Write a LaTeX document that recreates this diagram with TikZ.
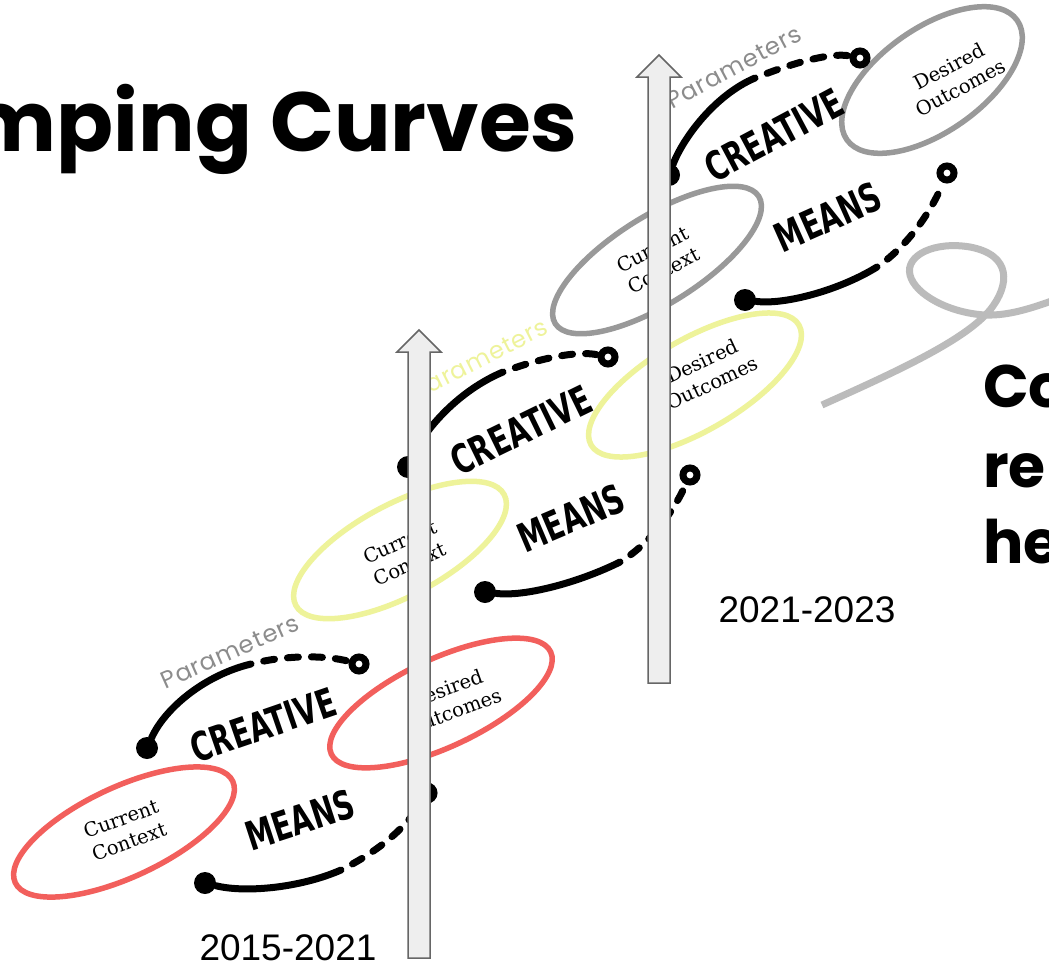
\documentclass[tikz,border=0pt]{standalone}
\usepackage{fontspec}
\usepackage{graphicx}
\usetikzlibrary{shapes.geometric}
\newfontfamily\titlefont{Poppins}
\newfontfamily\condfont{DejaVu Sans Bold}
\newfontfamily\paramfont{Poppins}[LetterSpace=4]
\newfontfamily\ctxfont{DejaVu Serif}
\newfontfamily\yearfont{Liberation Sans}
\newcommand{\cond}[1]{\scalebox{0.70}[1]{#1}}
\definecolor{cred}{HTML}{F25F5C}
\definecolor{cyel}{HTML}{EEF39A}
\definecolor{cgry}{HTML}{999999}
\definecolor{pgry}{HTML}{8C8C8C}
\definecolor{loopgry}{HTML}{BBBBBB}
\definecolor{arrfill}{HTML}{EEEEEE}
\definecolor{arrline}{HTML}{666666}
\begin{document}
\begin{tikzpicture}[x=1pt,y=-1pt,
  oval/.style={draw, ellipse, line width=5.5pt, inner sep=0pt},
  ctx/.style={font=\ctxfont\fontsize{19.5}{24}\selectfont, align=center, text=black, inner sep=0pt},
  big/.style={font=\condfont\fontsize{40}{42}\selectfont, inner sep=0pt},
  param/.style={font=\paramfont\fontsize{24}{26}\selectfont, inner sep=0pt},
  solidarc/.style={line width=7pt, line cap=round},
  dasharc/.style={line width=7pt, line cap=round, dash pattern=on 11pt off 13pt, dash phase=11pt},
  dotend/.style={circle, fill=black, minimum size=22pt, inner sep=0pt},
  ringend/.style={circle, draw=black, fill=white, line width=7pt, minimum size=14pt, inner sep=0pt},
  blockarrow/.style={fill=arrfill, draw=arrline, line width=1.5pt},
  year/.style={font=\yearfont\fontsize{37}{40}\selectfont, inner sep=0pt},
  head/.style={font=\titlefont\bfseries\fontsize{84}{90}\selectfont, inner sep=0pt},
  headb/.style={font=\titlefont\bfseries\fontsize{60}{66}\selectfont, inner sep=0pt, anchor=base west}
]
\useasboundingbox[fill=white] (0,0) rectangle (1049,966);

% title
\node[head, anchor=base east] (title) at (578,151) {mping Curves};

% gray loop
\draw[loopgry, line width=7pt] (822,405) .. controls (900,370) and (965,340) .. (990,310)
  .. controls (1010,285) and (1012,255) .. (970,247)
  .. controls (935,241) and (905,255) .. (910,275)
  .. controls (915,295) and (950,313) .. (985,315)
  .. controls (1010,316) and (1035,307) .. (1060,298);

% right text
\node[headb] (ra) at (983,407) {Co};
\node[headb] (rb) at (983,487) {re};
\node[headb] (rc) at (983,563) {he};

% ---------- group 3 (gray) ----------
\node[oval, draw=cgry, minimum width=240pt, minimum height=88pt, rotate=32] (cc3) at (657,260) {};
\node[ctx, rotate=27] (cc3t) at (658,260) {Current\\Context};
\node[oval, draw=cgry, minimum width=208pt, minimum height=104pt, rotate=35] (do3) at (932,80) {};
\node[ctx, rotate=28] (do3t) at (955,77) {Desired\\Outcomes};

% ---------- group 2 (yellow) ----------
\node[oval, draw=cyel, minimum width=236pt, minimum height=92pt, rotate=28] (cc2) at (400,550) {};
\node[ctx, rotate=24] (cc2t) at (405,553) {Current\\Context};
\node[oval, draw=cyel, minimum width=240pt, minimum height=92pt, rotate=30] (do2) at (695,385) {};
\node[ctx, rotate=25] (do2t) at (707,372) {Desired\\Outcomes};

% ---------- group 1 (red) ----------
\node[oval, draw=cred, minimum width=240pt, minimum height=90pt, rotate=25] (cc1) at (124,832) {};
\node[ctx, rotate=20] (cc1t) at (125,830) {Current\\Context};
\node[oval, draw=cred, minimum width=242pt, minimum height=88pt, rotate=25] (do1) at (441,703) {};
\node[ctx, rotate=20] (do1t) at (450,700) {Desired\\Outcomes};

% end markers
\node[dotend] (d1u) at (147,748) {};
\node[ringend] (r1u) at (359,664) {};
\node[dotend] (d1l) at (205,883) {};
\node[ringend] (r1l) at (427,793) {};
\node[dotend] (d2u) at (408,467) {};
\node[ringend] (r2u) at (608,357) {};
\node[dotend] (d2l) at (485,592) {};
\node[ringend] (r2l) at (690,475) {};
\node[dotend] (d3u) at (669,175) {};
\node[ringend] (r3u) at (860,58) {};
\node[dotend] (d3l) at (745,300) {};
\node[ringend] (r3l) at (947,173) {};

\coordinate (s1u) at (251,664);
\coordinate (s1l) at (341,870);
\coordinate (s2u) at (503,372);
\coordinate (s2l) at (620,562);
\coordinate (s3u) at (755,78);
\coordinate (s3l) at (877,267);

% arcs
\draw[solidarc] (d1u) .. controls (165,708) and (205,675) .. (s1u);
\draw[dasharc] (s1u) .. controls (285,655) and (325,655) .. (r1u);
\draw[solidarc] (d1l) .. controls (245,893) and (300,888) .. (s1l);
\draw[dasharc] (s1l) .. controls (375,853) and (405,830) .. (r1l);
\draw[solidarc] (d2u) .. controls (425,428) and (460,390) .. (s2u);
\draw[dasharc] (s2u) .. controls (535,360) and (575,350) .. (r2u);
\draw[solidarc] (d2l) .. controls (525,597) and (580,582) .. (s2l);
\draw[dasharc] (s2l) .. controls (648,545) and (672,515) .. (r2l);
\draw[solidarc] (d3u) .. controls (683,138) and (715,95) .. (s3u);
\draw[dasharc] (s3u) .. controls (790,64) and (830,52) .. (r3u);
\draw[solidarc] (d3l) .. controls (785,305) and (840,290) .. (s3l);
\draw[dasharc] (s3l) .. controls (905,248) and (930,215) .. (r3l);

% labels
\node[big, rotate=19] (cr1) at (263,725) {\cond{CREATIVE}};
\node[big, rotate=26] (cr2) at (521,430) {\cond{CREATIVE}};
\node[big, rotate=28] (cr3) at (774,135) {\cond{CREATIVE}};
\node[big, rotate=18] (me1) at (300,820) {\cond{MEANS}};
\node[big, rotate=23] (me2) at (571,518) {\cond{MEANS}};
\node[big, rotate=24] (me3) at (828,217) {\cond{MEANS}};
\node[param, text=pgry, rotate=24] (pa1) at (230,652) {Parameters};
\node[param, text=cyel, rotate=27] (pa2) at (480,359) {Parameters};
\node[param, text=pgry, rotate=28] (pa3) at (734,67) {Parameters};

% block arrows
\draw[blockarrow] (408,958) -- (408,352) -- (397,352) -- (419,330) -- (441,352) -- (430,352) -- (430,958) -- cycle;
\draw[blockarrow] (648,683) -- (648,77) -- (637,77) -- (659,55) -- (681,77) -- (670,77) -- (670,683) -- cycle;

% years
\node[year] (y1) at (288,948) {2015-2021};
\node[year] (y2) at (807,610) {2021-2023};
\end{tikzpicture}
\end{document}
